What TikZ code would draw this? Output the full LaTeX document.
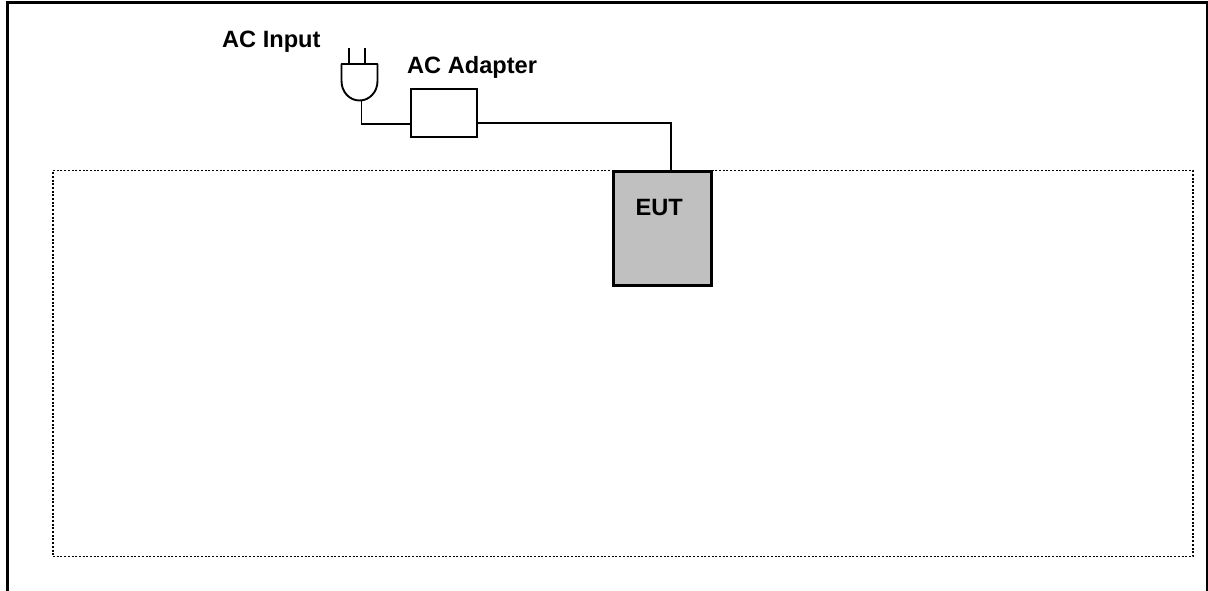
\documentclass[tikz,border=0pt]{standalone}
\usepackage{fontspec}
\setmainfont{Liberation Sans}
\tikzset{
  px/.style={x=1pt,y=-1pt},
  frameline/.style={line width=3pt,line cap=butt,line join=miter},
  zonebox/.style={draw,line width=1.7pt,dash pattern=on 2pt off 1.7pt},
  wire/.style={line width=1.9pt},
  adapterbox/.style={draw,line width=2pt,fill=white,minimum width=66pt,minimum height=48pt,inner sep=0pt,outer sep=0pt},
  eutbox/.style={draw,line width=2.6pt,fill=eutgray,minimum width=98pt,minimum height=114.5pt,inner sep=0pt,outer sep=0pt},
  label/.style={font=\fontsize{23.6pt}{25pt}\selectfont\bfseries,inner sep=0pt,anchor=base west},
}
\definecolor{eutgray}{HTML}{C0C0C0}
\begin{document}
\begin{tikzpicture}[px]
\path[use as bounding box] (0,0) rectangle (1208,591);
\fill[white] (0,0) rectangle (1208,591);
% outer frame, open at the bottom
\coordinate (fa) at (7.5,591);
\coordinate (fb) at (7.5,2.5);
\coordinate (fc) at (1207,2.5);
\coordinate (fd) at (1207,591);
\draw[frameline] (fa) -- (fb) -- (fc) -- (fd);
% dotted zone
\node[zonebox,minimum width=1140pt,minimum height=386pt,inner sep=0pt,outer sep=0pt] (zone) at (623,363.5) {};
% boxes
\node[adapterbox] (adapter) at (444,113.3) {};
\node[eutbox] (eut) at (662.5,228.5) {};
% plug
\coordinate (pl) at (341.5,64);
\coordinate (pb) at (361.5,100.3);
\draw[wire,line join=round] (pl) -- (377.5,64) -- (377.5,81)
  .. controls (377.5,92) and (369.5,100.5) .. (359.5,100.5)
  .. controls (349.5,100.5) and (341.5,92) .. (341.5,81) -- cycle;
\coordinate (p1t) at (349,48);
\coordinate (p1b) at (349,64);
\coordinate (p2t) at (365,48);
\coordinate (p2b) at (365,64);
\draw[wire] (p1t) -- (p1b);
\draw[wire] (p2t) -- (p2b);
% connectors
\coordinate (wc) at (671,123);
\coordinate (wl) at (adapter.west |- 0,124);
\draw[wire] (pb) |- (wl);
\coordinate (wa) at (adapter.east |- wc);
\draw[wire] (wa) -- (wc) -- (wc |- eut.north);
% labels
\node[label] (lac) at (222,48) {AC Input};
\node[label] (lad) at (407,74) {AC Adapter};
\node[label] (leut) at (635.5,215) {EUT};
\end{tikzpicture}
\end{document}
